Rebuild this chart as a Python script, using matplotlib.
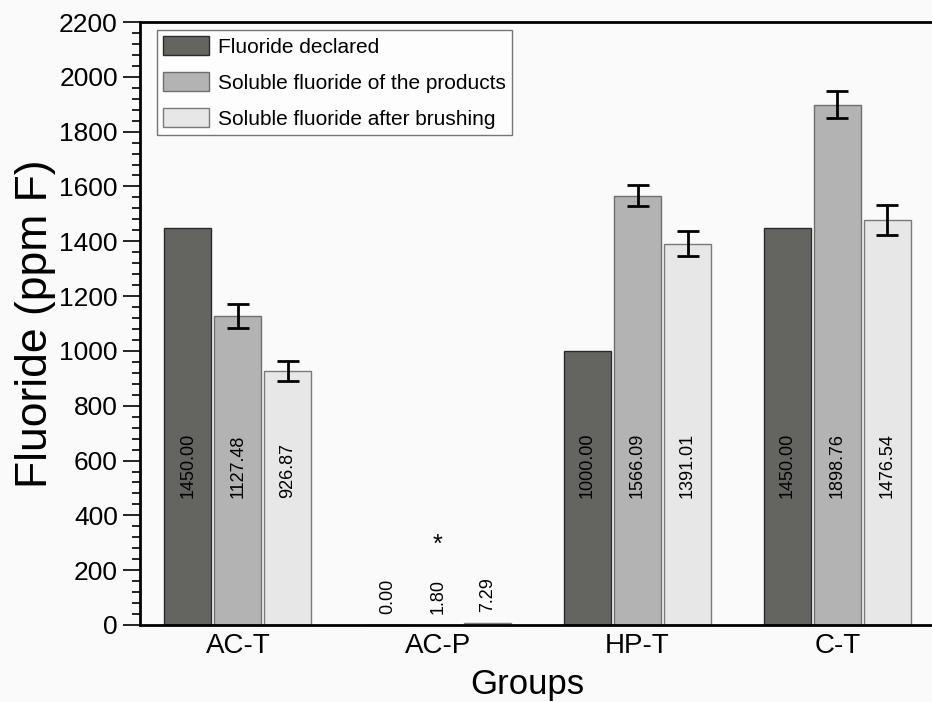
import matplotlib
matplotlib.use("Agg")
import matplotlib.pyplot as plt
from matplotlib.ticker import MultipleLocator
import numpy as np

plt.rcParams['font.family'] = ['Liberation Sans', 'DejaVu Sans']

groups = ["AC-T", "AC-P", "HP-T", "C-T"]
series_names = ["Fluoride declared", "Soluble fluoride of the products", "Soluble fluoride after brushing"]
declared = [1450.00, 0.00, 1000.00, 1450.00]
soluble_products = [1127.48, 1.80, 1566.09, 1898.76]
soluble_brushing = [926.87, 7.29, 1391.01, 1476.54]
err_declared = [0, 0, 0, 0]
err_products = [44, 0, 38, 50]
err_brushing = [35, 0, 45, 55]

series = [declared, soluble_products, soluble_brushing]
errors = [err_declared, err_products, err_brushing]
colors = ["#646461", "#b3b3b3", "#e7e7e7"]
edges = ["#2a2a2a", "#6e6e6e", "#7a7a7a"]

fig = plt.figure(figsize=(9.32, 7.02), dpi=100)
fig.patch.set_facecolor("#fafafa")
ax = fig.add_axes([140/932, (702-625)/702, 1 - 140/932 + 0.01, (625-22)/702])
ax.set_facecolor("#fafafa")

x = np.arange(len(groups))
offsets = [-0.25, 0.0, 0.25]
width = 0.235
for vals, errs, c, ec, off, name in zip(series, errors, colors, edges, offsets, series_names):
    ax.bar(x + off, vals, width, color=c, edgecolor=ec, linewidth=1.0, label=name, zorder=2)
    for xi, v, e in zip(x, vals, errs):
        if e > 0:
            ax.errorbar(xi + off, v, yerr=e, fmt='none', ecolor='black', elinewidth=2,
                        capsize=8, capthick=2, zorder=3)
        ty = 462 if v > 500 else v + 40
        ax.text(xi + off, ty, f"{v:.2f}", rotation=90, ha='center', va='bottom',
                fontsize=13, color='black', zorder=4)

ax.text(x[1], 250, "*", ha='center', va='bottom', fontsize=18)

ax.set_xlim(-0.49, 3.52)
ax.set_ylim(0, 2200)
ax.set_xticks(x)
ax.set_xticklabels(groups, fontsize=20)
ax.tick_params(axis='x', length=0, pad=6)
ax.yaxis.set_major_locator(MultipleLocator(200))
ax.yaxis.set_minor_locator(MultipleLocator(40))
ax.tick_params(axis='y', which='major', direction='out', length=12, width=1.2, labelsize=19, pad=4)
ax.tick_params(axis='y', which='minor', direction='out', length=6, width=1.2)
ax.set_xlabel("Groups", fontsize=25)
ax.xaxis.set_label_coords((527 - 140) / 801.3, -0.072)
ax.set_ylabel("Fluoride (ppm F)", fontsize=32, labelpad=2)

for s in ['left', 'bottom', 'top']:
    ax.spines[s].set_linewidth(2)
    ax.spines[s].set_color('black')
ax.spines['right'].set_visible(False)

leg = ax.legend(loc='upper left', bbox_to_anchor=(0.0215, 0.987), fontsize=15,
                frameon=True, fancybox=False, handlelength=2.2, handleheight=1.0,
                borderpad=0.3, labelspacing=0.75, handletextpad=0.4, borderaxespad=0)
leg.get_frame().set_edgecolor('#555555')
leg.get_frame().set_linewidth(1.0)
leg.get_frame().set_facecolor('white')

fig.savefig("out.png", dpi=100, facecolor=fig.get_facecolor())
